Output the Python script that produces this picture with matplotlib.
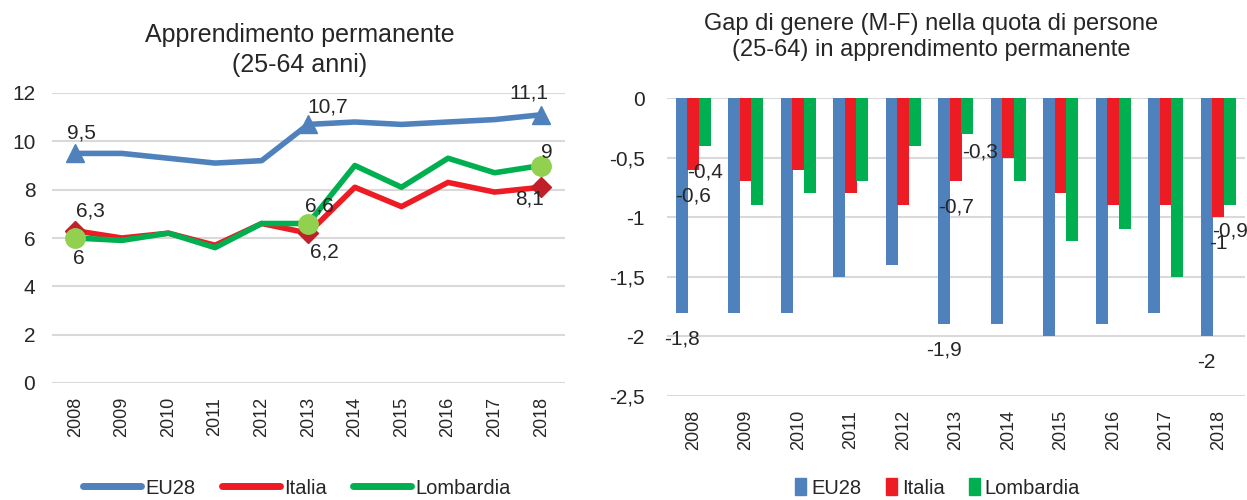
import numpy as np
import matplotlib
matplotlib.use("Agg")
import matplotlib.pyplot as plt
from matplotlib.lines import Line2D
from matplotlib.patches import Patch

plt.rcParams['font.family'] = ['Liberation Sans', 'DejaVu Sans']
plt.rcParams['text.color'] = '#262626'
plt.rcParams['xtick.color'] = '#262626'
plt.rcParams['ytick.color'] = '#262626'

years = ['2008', '2009', '2010', '2011', '2012', '2013', '2014', '2015', '2016', '2017', '2018']

# apprendimento permanente (25-64 anni), %
eu28 = [9.5, 9.5, 9.3, 9.1, 9.2, 10.7, 10.8, 10.7, 10.8, 10.9, 11.1]
italia = [6.3, 6.0, 6.2, 5.7, 6.6, 6.2, 8.1, 7.3, 8.3, 7.9, 8.1]
lombardia = [6.0, 5.9, 6.2, 5.6, 6.6, 6.6, 9.0, 8.1, 9.3, 8.7, 9.0]

# gap di genere M-F
gap_eu28 = [-1.8, -1.8, -1.8, -1.5, -1.4, -1.9, -1.9, -2.0, -1.9, -1.8, -2.0]
gap_italia = [-0.6, -0.7, -0.6, -0.8, -0.9, -0.7, -0.5, -0.8, -0.9, -0.9, -1.0]
gap_lombardia = [-0.4, -0.9, -0.8, -0.7, -0.4, -0.3, -0.7, -1.2, -1.1, -1.5, -0.9]

labelled = [0, 5, 10]

BLUE = '#4F81BD'
RED = '#ED1C24'
GREEN = '#00B050'
GRID = '#D9D9D9'


def fmt(v):
    return f"{v:g}".replace('.', ',')


fig = plt.figure(figsize=(12.47, 5), dpi=100)

# ---- left: line chart
ax1 = fig.add_axes([0.0417, 0.234, 0.411, 0.58])
x = np.arange(len(years))
ax1.plot(x, eu28, color=BLUE, lw=4, solid_capstyle='round', zorder=3)
ax1.plot(x, italia, color=RED, lw=4, solid_capstyle='round', zorder=3)
ax1.plot(x, lombardia, color=GREEN, lw=4, solid_capstyle='round', zorder=3)
ax1.plot(x[labelled], np.array(eu28)[labelled], ls='none', marker='^', ms=13, color=BLUE, zorder=4)
ax1.plot(x[labelled], np.array(italia)[labelled], ls='none', marker='D', ms=10, color='#C0202A', zorder=4)
ax1.plot(x[labelled], np.array(lombardia)[labelled], ls='none', marker='o', ms=14, color='#92D050', zorder=5)

# offsets in pixels (dx, dy up)
left_offsets = {
    ('eu', 0): (6, 20), ('eu', 5): (19, 17), ('eu', 10): (-12, 22),
    ('it', 0): (15, 20), ('it', 5): (16, -19), ('it', 10): (-12, -12),
    ('lo', 0): (4, -20), ('lo', 5): (11, 17), ('lo', 10): (6, 13),
}
for key, series in (('eu', eu28), ('it', italia), ('lo', lombardia)):
    for i in labelled:
        dx, dy = left_offsets[(key, i)]
        ax1.annotate(fmt(series[i]), (i, series[i]), xytext=(dx, dy),
                     textcoords='offset pixels', ha='center', va='center',
                     fontsize=15, zorder=6)

ax1.set_xlim(-0.5, len(years) - 0.5)
ax1.set_ylim(0, 12)
ax1.set_yticks(range(0, 13, 2))
ax1.set_xticks(x)
ax1.set_xticklabels(years, rotation=90, fontsize=13)
ax1.tick_params(axis='y', length=0, pad=12, labelsize=15)
ax1.tick_params(axis='x', length=0, pad=10)
ax1.grid(axis='y', color=GRID, lw=1.5)
ax1.set_axisbelow(True)
for s in ax1.spines.values():
    s.set_visible(False)
fig.text(0.2405, 0.9, "Apprendimento permanente\n(25-64 anni)", ha='center', va='center',
         fontsize=18, linespacing=1.3)

fig.legend(handles=[Line2D([], [], color=BLUE, lw=5, solid_capstyle='round'),
                    Line2D([], [], color=RED, lw=5, solid_capstyle='round'),
                    Line2D([], [], color=GREEN, lw=5, solid_capstyle='round')],
           labels=['EU28', 'Italia', 'Lombardia'], loc='center', bbox_to_anchor=(0.238, 0.024),
           ncol=3, frameon=False, fontsize=14.5, handlelength=2.9, handletextpad=0.2,
           columnspacing=1.3, borderpad=0.2)

# ---- right: bar chart
ax2 = fig.add_axes([0.535, 0.208, 0.463, 0.596])
w = 0.22
ax2.bar(x - w, gap_eu28, 0.23, color=BLUE, zorder=3)
ax2.bar(x, gap_italia, 0.23, color=RED, zorder=3)
ax2.bar(x + w, gap_lombardia, 0.23, color=GREEN, zorder=3)

for off, series in ((-w, gap_eu28), (0, gap_italia), (w, gap_lombardia)):
    for i in labelled:
        dx, dy = 0, -26
        if off == w and i == 5:
            dx, dy = 13, -18
        ax2.annotate(fmt(series[i]), (i + off, series[i]), xytext=(dx, dy),
                     textcoords='offset pixels', ha='center', va='center',
                     fontsize=15, zorder=6, annotation_clip=False)

ax2.set_xlim(-0.5, len(years) - 0.5)
ax2.set_ylim(-2.5, 0)
yt = [0, -0.5, -1, -1.5, -2, -2.5]
ax2.set_yticks(yt)
ax2.set_yticklabels([fmt(v) for v in yt])
ax2.set_xticks(x)
ax2.set_xticklabels(years, rotation=90, fontsize=13)
ax2.tick_params(axis='y', length=0, pad=16, labelsize=15)
ax2.tick_params(axis='x', length=0, pad=10)
ax2.grid(axis='y', color=GRID, lw=1.5)
ax2.set_axisbelow(True)
for s in ax2.spines.values():
    s.set_visible(False)
fig.text(0.747, 0.926, "Gap di genere (M-F) nella quota di persone\n(25-64) in apprendimento permanente",
         ha='center', va='center', fontsize=17, linespacing=1.2)

fig.legend(handles=[Patch(color=BLUE), Patch(color=RED), Patch(color=GREEN)],
           labels=['EU28', 'Italia', 'Lombardia'], loc='center', bbox_to_anchor=(0.752, 0.024),
           ncol=3, frameon=False, fontsize=14.5, handlelength=0.55, handleheight=0.9,
           handletextpad=0.25, columnspacing=1.2, borderpad=0.2)

fig.savefig("out.png", dpi=100)
